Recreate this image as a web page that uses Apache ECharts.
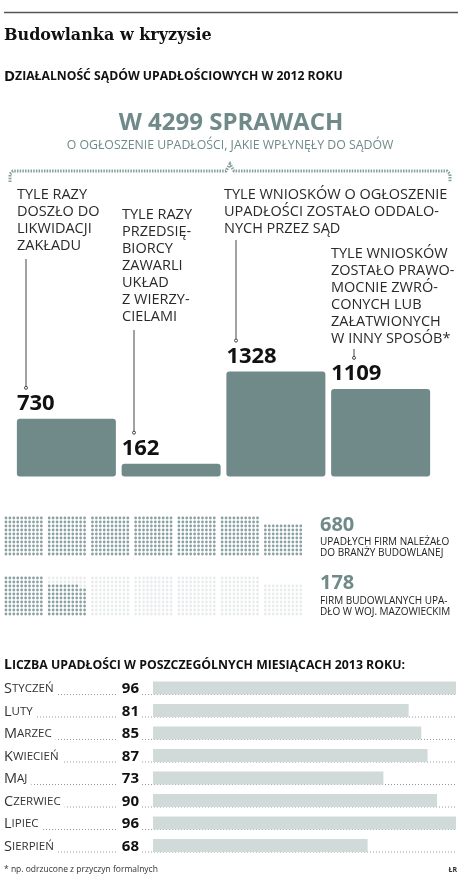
<!DOCTYPE html>
<html>
<head>
<meta charset="utf-8">
<title>Budowlanka w kryzysie</title>
<script src="https://cdn.jsdelivr.net/npm/echarts@6/dist/echarts.min.js"></script>
<style>
html, body { margin: 0; padding: 0; background: #fff; }
#main { width: 460px; height: 896px; }
</style>
</head>
<body>
<div id="main"></div>
<script>
/* sprawy w sądach upadłościowych, 2012 */
var caseNames = ['likwidacja', 'układ', 'oddalone', 'zwrócone'];
var caseValues = [730, 162, 1328, 1109];
var caseNotes = [
    'TYLE RAZY\nDOSZŁO DO\nLIKWIDACJI\nZAKŁADU',
    'TYLE RAZY\nPRZEDSIĘ-\nBIORCY\nZAWARLI\nUKŁAD\nZ WIERZY-\nCIELAMI',
    'TYLE WNIOSKÓW O OGŁOSZENIE\nUPADŁOŚCI ZOSTAŁO ODDALO-\nNYCH PRZEZ SĄD',
    'TYLE WNIOSKÓW\nZOSTAŁO PRAWO-\nMOCNIE ZWRÓ-\nCONYCH LUB\nZAŁATWIONYCH\nW INNY SPOSÓB*'
];
var totalCases = 4299;

/* upadłe firmy budowlane (kropka = 1 firma) */
var firmValues = [680, 178];
var firmNotes = [
    'UPADŁYCH FIRM NALEŻAŁO\nDO BRANŻY BUDOWLANEJ',
    'FIRM BUDOWLANYCH UPA-\nDŁO W WOJ. MAZOWIECKIM'
];

/* liczba upadłości w miesiącach 2013 */
var monthNames = ['Styczeń', 'Luty', 'Marzec', 'Kwiecień', 'Maj', 'Czerwiec', 'Lipiec', 'Sierpień'];
var monthValues = [96, 81, 85, 87, 73, 90, 96, 68];

var TEAL = '#6f8a89';
var FONT = '"Open Sans", "Noto Sans", sans-serif';

/* kropki: bloki po 100 (10x10), wypełniane od dołu */
function waffleDots(from, to, line) {
    var pts = [];
    for (var i = from; i < to; i++) {
        var block = Math.floor(i / 100), k = i % 100;
        var r = Math.floor(k / 10), c = k % 10;
        pts.push([block * 11 + c, line * 15 + 9 - r]);
    }
    return pts;
}

/* kapitaliki: pierwsza litera większa */
function smallCaps(s) {
    return '{b|' + s.charAt(0).toUpperCase() + '}{s|' + s.slice(1).toUpperCase() + '}';
}

var chart = echarts.init(document.getElementById('main'), null, { renderer: 'canvas' });

var option = {
    animation: false,
    backgroundColor: '#fff',
    grid: [
        { left: 14, right: 27, top: 318.5, height: 158 },
        { left: 4, right: 157.3, top: 516, height: 100 },
        { left: 153, right: 4, top: 676.75, height: 180 }
    ],
    xAxis: [
        { gridIndex: 0, type: 'category', data: caseNames, show: false },
        { gridIndex: 1, type: 'value', min: -0.5, max: 75.5, show: false },
        { gridIndex: 2, type: 'value', min: 0, max: 96, show: false }
    ],
    yAxis: [
        { gridIndex: 0, type: 'value', min: 0, max: 2000, show: false },
        { gridIndex: 1, type: 'value', min: -0.5, max: 24.5, inverse: true, show: false },
        { gridIndex: 2, type: 'category', data: monthNames, inverse: true, show: false }
    ],
    series: [
        {
            type: 'bar',
            xAxisIndex: 0, yAxisIndex: 0,
            data: caseValues,
            barWidth: 99,
            silent: true,
            itemStyle: { color: TEAL, borderRadius: 3 },
            label: {
                show: true,
                position: [0, -4],
                align: 'left',
                verticalAlign: 'bottom',
                color: '#111',
                fontFamily: FONT,
                fontWeight: 'bold',
                fontSize: 22
            }
        },
        {
            type: 'scatter',
            xAxisIndex: 1, yAxisIndex: 1,
            silent: true,
            symbol: 'circle',
            symbolSize: 2.8,
            itemStyle: { color: '#e4e7e7' },
            data: waffleDots(firmValues[1], firmValues[0], 1)
        },
        {
            type: 'scatter',
            xAxisIndex: 1, yAxisIndex: 1,
            silent: true,
            symbol: 'circle',
            symbolSize: 2.8,
            itemStyle: { color: TEAL },
            data: waffleDots(0, firmValues[0], 0).concat(waffleDots(0, firmValues[1], 1))
        },
        {
            type: 'custom',
            xAxisIndex: 2, yAxisIndex: 2,
            silent: true,
            z: 1,
            data: monthValues.map(function (v, i) { return [v, i]; }),
            renderItem: function (params, api) {
                var i = api.value(1);
                var p = api.coord([0, i]);
                var yb = p[1] + 6.5;
                return {
                    type: 'group',
                    children: [
                        {
                            type: 'line',
                            shape: { x1: 4, y1: yb, x2: 457, y2: yb },
                            style: { stroke: '#9a9a9a', lineWidth: 1, lineDash: [1, 2] }
                        },
                        {
                            type: 'text',
                            x: 4, y: p[1] + 1,
                            style: {
                                text: smallCaps(monthNames[i]),
                                align: 'left',
                                verticalAlign: 'middle',
                                backgroundColor: '#fff',
                                padding: [3, 4, 3, 0],
                                rich: {
                                    b: { fontFamily: FONT, fontSize: 14.5, fill: '#333', color: '#333' },
                                    s: { fontFamily: FONT, fontSize: 11.5, fill: '#333', color: '#333' }
                                }
                            }
                        },
                        {
                            type: 'text',
                            x: 142, y: p[1] + 1,
                            style: {
                                text: String(api.value(0)),
                                align: 'right',
                                verticalAlign: 'middle',
                                backgroundColor: '#fff',
                                padding: [3, 3, 3, 4],
                                fontFamily: FONT,
                                fontWeight: 'bold',
                                fontSize: 15,
                                fill: '#111'
                            }
                        }
                    ]
                };
            }
        },
        {
            type: 'bar',
            xAxisIndex: 2, yAxisIndex: 2,
            data: monthValues,
            barWidth: 13,
            silent: true,
            z: 3,
            itemStyle: { color: '#d0dad9' }
        }
    ]
};
chart.setOption(option);

/* teksty, klamra i linie odniesienia */
var noteX = [17, 122, 224, 331];
var noteY = [186.5, 206.5, 186.5, 245.5];
var leadX = [26, 134, 236, 354];
var leadTop = [259, 330, 240, 349];

var graphics = [
    { type: 'line', shape: { x1: 4, y1: 12.5, x2: 458, y2: 12.5 }, style: { stroke: '#555', lineWidth: 1.5 } },
    {
        type: 'text', x: 4, y: 36,
        style: { text: 'Budowlanka w kryzysie', fontFamily: '"DejaVu Serif", serif', fontWeight: 'bold', fontSize: 16, fill: '#111', verticalAlign: 'middle' }
    },
    {
        type: 'text', x: 4, y: 77,
        style: {
            text: smallCaps('Działalność sądów upadłościowych w 2012 roku'),
            verticalAlign: 'middle',
            rich: {
                b: { fontFamily: FONT, fontWeight: 'bold', fontSize: 15, fill: '#111' },
                s: { fontFamily: FONT, fontWeight: 'bold', fontSize: 12.2, fill: '#111' }
            }
        }
    },
    {
        type: 'text', x: 231, y: 123,
        style: { text: 'W ' + totalCases + ' SPRAWACH', fontFamily: FONT, fontWeight: 'bold', fontSize: 24, fill: TEAL, align: 'center', verticalAlign: 'middle' }
    },
    {
        type: 'text', x: 230, y: 145,
        style: { text: 'O OGŁOSZENIE UPADŁOŚCI, JAKIE WPŁYNĘŁY DO SĄDÓW', fontFamily: FONT, fontSize: 12.3, fill: TEAL, align: 'center', verticalAlign: 'middle' }
    },
    {
        type: 'polyline',
        shape: { points: [[10, 182], [10, 174], [13, 171], [226, 171], [230, 164], [234, 171], [447, 171], [450, 174], [450, 182]] },
        style: { stroke: '#86a09f', lineWidth: 3, lineDash: [1.5, 1.2], fill: null }
    },
    {
        type: 'text', x: 320, y: 525,
        style: { text: String(firmValues[0]), fontFamily: FONT, fontWeight: 'bold', fontSize: 20, fill: TEAL, verticalAlign: 'middle' }
    },
    {
        type: 'text', x: 320, y: 536,
        style: { text: firmNotes[0], fontFamily: FONT, fontSize: 10, lineHeight: 11.5, fill: '#222' }
    },
    {
        type: 'text', x: 320, y: 583,
        style: { text: String(firmValues[1]), fontFamily: FONT, fontWeight: 'bold', fontSize: 20, fill: TEAL, verticalAlign: 'middle' }
    },
    {
        type: 'text', x: 320, y: 595,
        style: { text: firmNotes[1], fontFamily: FONT, fontSize: 10, lineHeight: 11.5, fill: '#222' }
    },
    {
        type: 'text', x: 4, y: 665,
        style: {
            text: smallCaps('Liczba upadłości w poszczególnych miesiącach 2013 roku:'),
            verticalAlign: 'middle',
            rich: {
                b: { fontFamily: FONT, fontWeight: 'bold', fontSize: 14, fill: '#111' },
                s: { fontFamily: FONT, fontWeight: 'bold', fontSize: 12.3, fill: '#111' }
            }
        }
    },
    {
        type: 'text', x: 4, y: 870,
        style: { text: '* np. odrzucone z przyczyn formalnych', fontFamily: FONT, fontSize: 8.5, fill: '#333', verticalAlign: 'middle' }
    },
    {
        type: 'text', x: 457, y: 870,
        style: { text: 'ŁR', fontFamily: FONT, fontWeight: 'bold', fontSize: 7, fill: '#333', align: 'right', verticalAlign: 'middle' }
    }
];

for (var i = 0; i < caseValues.length; i++) {
    graphics.push({
        type: 'text', x: noteX[i], y: noteY[i],
        style: { text: caseNotes[i], fontFamily: FONT, fontSize: 14.5, lineHeight: 17, fill: '#2a2a2a' }
    });
    // koniec linii tuż nad wartością słupka
    var barTop = chart.convertToPixel({ gridIndex: 0 }, [i, caseValues[i]]);
    var endY = barTop[1] - 31;
    graphics.push({
        type: 'line',
        shape: { x1: leadX[i], y1: leadTop[i], x2: leadX[i], y2: endY },
        style: { stroke: '#444', lineWidth: 1 }
    });
    graphics.push({
        type: 'circle',
        shape: { cx: leadX[i], cy: endY, r: 1.5 },
        style: { fill: '#fff', stroke: '#444', lineWidth: 1 }
    });
}

chart.setOption({ graphic: graphics });
</script>
</body>
</html>
